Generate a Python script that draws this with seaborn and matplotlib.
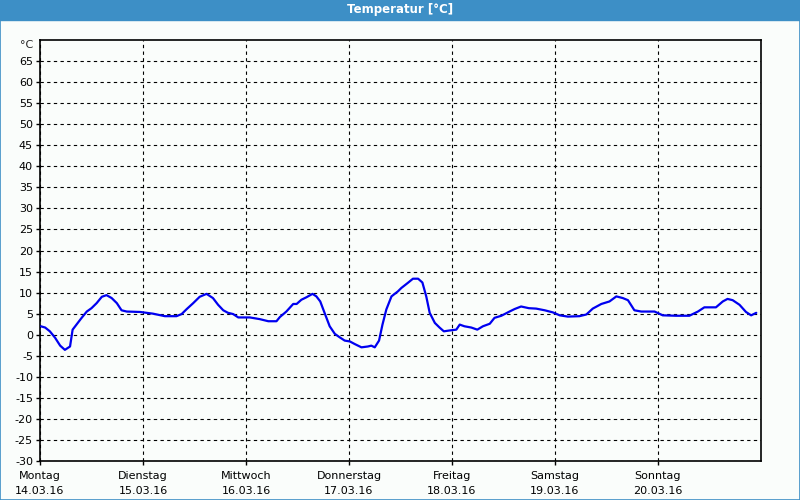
import matplotlib
matplotlib.use('Agg')
import matplotlib.pyplot as plt
from matplotlib.patches import Rectangle
import seaborn as sns
import pandas as pd

# -- Daten: Stunden seit Montag 00:00 und Temperatur in °C --
hours = [0.2, 1.2, 2.3, 3.5, 4.7, 5.8, 7.0, 7.6, 8.5, 9.7, 10.9, 12.0, 13.2,
         14.4, 15.5, 16.7, 17.9, 19.0, 20.2, 23.3, 26.3, 29.1, 31.8, 33.0,
         34.2, 35.7, 37.2, 38.8, 40.3, 41.5, 42.7, 43.8, 45.0, 46.2, 48.9,
         51.2, 53.2, 55.1, 55.9, 57.4, 59.0, 59.8, 60.9, 62.1, 63.5, 64.4,
         65.3, 66.3, 67.5, 68.7, 69.8, 71.0, 72.2, 73.3, 74.9, 76.4, 77.2,
         78.0, 79.0, 79.8, 80.7, 81.9, 83.4, 84.2, 85.7, 86.9, 88.1, 89.1,
         90.0, 90.8, 92.0, 93.1, 94.1, 95.4, 97.0, 97.8, 98.9, 100.5, 101.9,
         103.2, 104.8, 105.9, 107.5, 109.4, 110.6, 112.1, 113.9, 115.6,
         117.6, 119.5, 121.1, 123.0, 125.7, 127.3, 128.8, 130.8, 132.7,
         134.3, 135.8, 137.0, 138.5, 140.1, 143.2, 145.1, 148.2, 151.3,
         153.3, 154.8, 157.5, 159.1, 160.2, 161.4, 163.0, 164.5, 165.7,
         166.1, 166.9]
temps = [2.0, 1.7, 0.8, -0.7, -2.6, -3.6, -2.8, 1.2, 2.4, 4.0, 5.5, 6.3, 7.5,
         9.0, 9.4, 8.7, 7.5, 5.8, 5.5, 5.4, 5.0, 4.4, 4.4, 4.9,
         6.1, 7.5, 9.0, 9.7, 8.7, 7.1, 5.8, 5.2, 4.9, 4.1, 4.1,
         3.7, 3.2, 3.2, 4.2, 5.5, 7.3, 7.3, 8.3, 8.9, 9.7, 9.1,
         7.9, 5.2, 2.0, 0.2, -0.6, -1.4, -1.6, -2.2, -3.0, -2.8, -2.6,
         -3.0, -1.4, 2.4, 6.0, 9.1, 10.3, 11.1, 12.3, 13.3, 13.3, 12.4,
         9.1, 5.2, 2.8, 1.7, 0.8, 1.0, 1.2, 2.4, 2.0, 1.7, 1.2,
         2.0, 2.6, 4.0, 4.5, 5.5, 6.1, 6.7, 6.3, 6.2,
         5.8, 5.3, 4.6, 4.3, 4.4, 4.8, 6.2, 7.3, 7.9,
         9.1, 8.7, 8.2, 5.8, 5.5, 5.5, 4.6, 4.5, 4.5,
         5.5, 6.5, 6.5, 7.9, 8.5, 8.2, 7.1, 5.4, 4.6,
         4.8, 5.2]

day_names = ["Montag", "Dienstag", "Mittwoch", "Donnerstag", "Freitag",
             "Samstag", "Sonntag"]
day_dates = ["14.03.16", "15.03.16", "16.03.16", "17.03.16", "18.03.16",
             "19.03.16", "20.03.16"]
y_ticks = list(range(-30, 70, 5))

BG_COLOR = "#fafdfb"
BAR_COLOR = "#3d8fc6"

df = pd.DataFrame({"stunde": hours, "temp": temps})

sns.set_style("ticks")
plt.rcParams['font.family'] = ['DejaVu Sans']

fig = plt.figure(figsize=(8, 5), dpi=100)
fig.patch.set_facecolor(BG_COLOR)
ax = fig.add_axes([40 / 800, 1 - 461 / 500, 721 / 800, 421 / 500])
ax.set_facecolor(BG_COLOR)

# Titelleiste + Rahmen
fig.patches.append(Rectangle((0, 1 - 20 / 500), 1, 20 / 500,
                             transform=fig.transFigure, color=BAR_COLOR,
                             zorder=0))
fig.patches.append(Rectangle((0.0006, 0.001), 0.9988, 0.998,
                             transform=fig.transFigure, fill=False,
                             edgecolor=BAR_COLOR, linewidth=1.2, zorder=0))
fig.text(0.5, 1 - 10 / 500, "Temperatur [°C]", color="white",
         fontsize=8.5, fontweight="bold", ha="center", va="center")

sns.lineplot(data=df, x="stunde", y="temp", ax=ax, color="#0000f0",
             linewidth=1.6, zorder=3)

ax.set_xlim(0, 168)
ax.set_ylim(-30, 70)
ax.set_xticks([24 * i for i in range(7)])
ax.set_xticklabels([f"{n}\n{d}" for n, d in zip(day_names, day_dates)],
                   fontsize=8, linespacing=1.7)
ax.set_yticks(y_ticks)
ax.set_yticklabels([str(v) for v in y_ticks], fontsize=8)
ax.tick_params(axis="both", length=3, width=1, color="black",
               labelcolor="black", pad=2)
ax.tick_params(axis="x", pad=4)
ax.set_xlabel("")
ax.set_ylabel("")

ax.grid(True, color="black", linestyle=(0, (3, 3)), linewidth=0.8)
for spine in ax.spines.values():
    spine.set_visible(True)
    spine.set_color("black")
    spine.set_linewidth(1.2)

ax.text(-0.01, 1.0, "°C", transform=ax.transAxes, ha="right", va="top",
        fontsize=8)

fig.savefig("out.png", dpi=100, facecolor=fig.get_facecolor())
plt.close(fig)
